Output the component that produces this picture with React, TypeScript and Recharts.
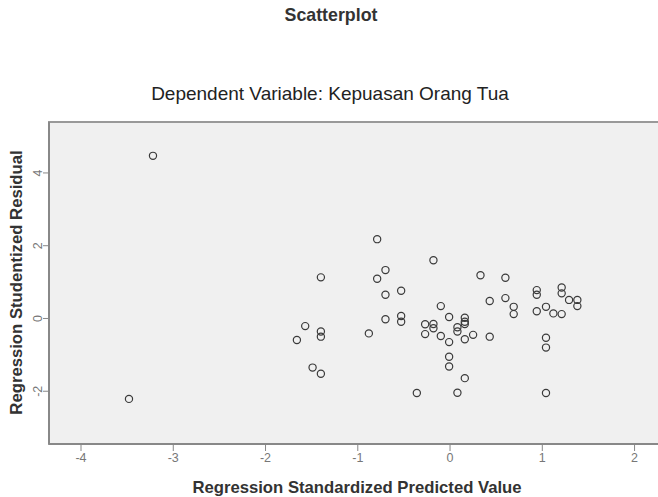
import { ScatterChart, Scatter, XAxis, YAxis, ReferenceArea } from "recharts";

// standardized predicted value
const predicted = [
    -3.22, -3.48, -1.66, -1.57, -1.49, -1.4, -1.4, -1.4, -1.4, -0.88,
    -0.79, -0.79, -0.7, -0.7, -0.7, -0.53, -0.53, -0.53, -0.36, -0.27,
    -0.27, -0.18, -0.18, -0.18, -0.1, -0.1, -0.01, -0.01, -0.01, -0.01,
    0.08, 0.08, 0.08, 0.16, 0.16, 0.16, 0.16, 0.16, 0.25, 0.33,
    0.43, 0.43, 0.6, 0.6, 0.69, 0.69, 0.94, 0.94, 0.94, 1.04,
    1.04, 1.04, 1.04, 1.12, 1.21, 1.21, 1.21, 1.29, 1.38, 1.38,
];

// studentized residual
const residual = [
    4.47, -2.21, -0.59, -0.21, -1.35, -1.52, 1.13, -0.36, -0.5, -0.41,
    2.18, 1.09, 1.33, 0.65, -0.02, 0.76, 0.07, -0.09, -2.05, -0.16,
    -0.43, 1.6, -0.15, -0.27, 0.34, -0.48, 0.04, -0.65, -1.05, -1.32,
    -0.24, -0.36, -2.04, 0.02, -0.09, -0.15, -0.57, -1.64, -0.45, 1.19,
    0.48, -0.5, 1.12, 0.56, 0.32, 0.12, 0.78, 0.65, 0.2, 0.32,
    -0.53, -0.8, -2.05, 0.14, 0.12, 0.85, 0.69, 0.51, 0.51, 0.34,
];

const xTicks = [-4, -3, -2, -1, 0, 1, 2];
const yTicks = [-2, 0, 2, 4];

// the plot runs past the right edge of the picture, as in the original
const X_DOMAIN: [number, number] = [-4.347, 2.33];
const Y_DOMAIN: [number, number] = [-3.45, 5.4];

const points = predicted.map((x, i) => ({ x, y: residual[i] }));

const FONT = "Arial, 'Liberation Sans', sans-serif";

const Ring = ({ cx, cy }: any) => (
    <circle cx={cx} cy={cy} r={3.6} fill="none" stroke="#3a3a3a" strokeWidth={1.2} />
);

const YTick = ({ x, y, payload }: any) => (
    <text
        x={x + 1}
        y={y}
        fill="#777"
        fontSize={12.5}
        fontFamily={FONT}
        textAnchor="middle"
        transform={`rotate(-90, ${x + 1}, ${y})`}
    >
        {payload.value}
    </text>
);

export default function App() {
    return (
        <div style={{ position: "absolute", left: 0, top: 0, width: 658, height: 497, overflow: "hidden", background: "#fff" }}>
            <div style={{ position: "absolute", left: 0, top: 0 }}>
                <ScatterChart
                    width={666}
                    height={497}
                    margin={{ top: 122, right: 1, bottom: 23, left: 29 }}
                >
                    <ReferenceArea
                        x1={X_DOMAIN[0]}
                        x2={X_DOMAIN[1]}
                        y1={Y_DOMAIN[0]}
                        y2={Y_DOMAIN[1]}
                        fill="#f0f0f0"
                        fillOpacity={1}
                        stroke="#999"
                        strokeWidth={2}
                    />
                    <XAxis
                        type="number"
                        dataKey="x"
                        domain={X_DOMAIN}
                        ticks={xTicks}
                        allowDataOverflow
                        height={30}
                        axisLine={{ stroke: "#888", strokeWidth: 2 }}
                        tickLine={{ stroke: "#888" }}
                        tickSize={7}
                        tick={{ fill: "#777", fontSize: 12.5, fontFamily: FONT }}
                    />
                    <YAxis
                        type="number"
                        dataKey="y"
                        domain={Y_DOMAIN}
                        ticks={yTicks}
                        allowDataOverflow
                        width={20}
                        axisLine={{ stroke: "#888", strokeWidth: 2 }}
                        tickLine={{ stroke: "#888" }}
                        tickSize={6}
                        tick={<YTick />}
                    />
                    <Scatter data={points} shape={<Ring />} isAnimationActive={false} />
                </ScatterChart>
            </div>
            <svg width={658} height={497} style={{ position: "absolute", left: 0, top: 0, pointerEvents: "none" }}>
                <text x={331} y={21} textAnchor="middle" fontFamily={FONT} fontSize={17.8} fontWeight="bold" fill="#333">
                    Scatterplot
                </text>
                <text x={330} y={100} textAnchor="middle" fontFamily={FONT} fontSize={19} fill="#222">
                    Dependent Variable: Kepuasan Orang Tua
                </text>
                <text x={357} y={493} textAnchor="middle" fontFamily={FONT} fontSize={16.7} fontWeight="bold" fill="#333">
                    Regression Standardized Predicted Value
                </text>
                <text
                    x={22}
                    y={282.5}
                    textAnchor="middle"
                    fontFamily={FONT}
                    fontSize={16.7}
                    fontWeight="bold"
                    fill="#333"
                    transform="rotate(-90, 22, 282.5)"
                >
                    Regression Studentized Residual
                </text>
            </svg>
        </div>
    );
}
